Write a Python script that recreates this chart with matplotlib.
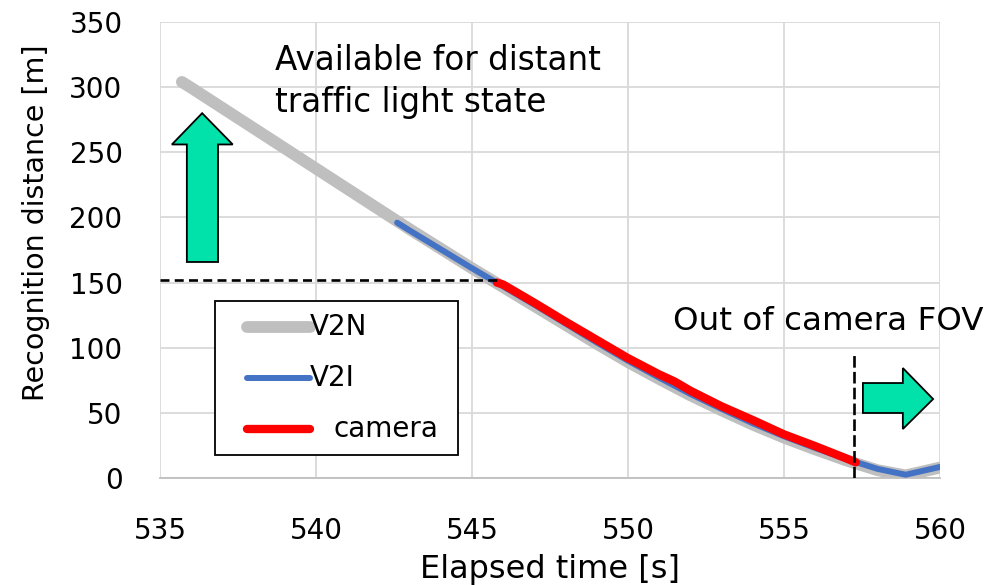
import numpy as np
import matplotlib.pyplot as plt
from matplotlib.patches import Polygon, Rectangle
from matplotlib.lines import Line2D

# V2N (gray), V2I (blue), camera (red) recognition distance [m] vs elapsed time [s]
t_v2n = [535.7, 536, 537, 538, 539, 540, 541, 542, 543, 544, 545, 546, 547, 548,
         549, 550, 551, 552, 553, 554, 555, 556, 557, 558, 558.9, 560]
d_v2n = [304, 299.5, 284, 268.5, 253, 237.5, 222, 206.5, 191, 176, 161, 146.5, 132,
         117.5, 103, 89, 76, 63.5, 52, 41, 31, 22, 13.5, 6, 2, 8]

t_v2i = [542.6, 543, 544, 545, 546, 547, 548, 549, 550, 551, 552, 553, 554, 555,
         556, 557, 558, 558.9, 560]
d_v2i = [196, 190, 175.5, 161, 147, 133, 118.5, 104, 90, 77, 64.5, 53, 42, 32,
         23, 14.5, 7, 2.5, 8.5]

t_cam = [545.8, 546, 547, 548, 549, 550, 551, 551.5, 552, 553, 554, 555, 556, 557, 557.3]
d_cam = [150, 148.5, 134.5, 120, 106, 92, 79.5, 74, 67, 55, 44.5, 33.5, 24.5, 15, 12]

x_ticks = [535, 540, 545, 550, 555, 560]
y_ticks = [0, 50, 100, 150, 200, 250, 300, 350]

dist_limit = 152      # horizontal dashed line
fov_time = 557.25     # vertical dashed line

GRAY = '#BFBFBF'
BLUE = '#4472C4'
RED = '#FF0000'
GREEN = '#00E2A9'

fig = plt.figure(figsize=(9.97, 5.85), dpi=100)
ax = fig.add_axes([0.1605, 0.1829, 0.7823, 0.7795])

ax.plot(t_v2n, d_v2n, color=GRAY, lw=8.5, solid_capstyle='round', solid_joinstyle='round', zorder=3)
ax.plot(t_v2i, d_v2i, color=BLUE, lw=4.3, solid_capstyle='round', solid_joinstyle='round', zorder=4)
ax.plot(t_cam, d_cam, color=RED, lw=6, solid_capstyle='round', solid_joinstyle='round', zorder=5)

ax.plot([535, t_cam[0]], [dist_limit, dist_limit], color='black', lw=1.9, ls=(0, (3.4, 2)), zorder=6)
ax.plot([fov_time, fov_time], [0, 97], color='black', lw=1.9, ls=(0, (4.4, 1.6)), zorder=6)

# green arrows
up = Polygon([(535.86, 165.8), (536.86, 165.8), (536.86, 256), (537.33, 256),
              (536.35, 280), (535.38, 256), (535.86, 256)],
             closed=True, fc=GREEN, ec='black', lw=1.3, zorder=7)
right = Polygon([(557.53, 49.9), (558.81, 49.9), (558.81, 37.6), (559.78, 60.6),
                 (558.81, 84.4), (558.81, 72.9), (557.53, 72.9)],
                closed=True, fc=GREEN, ec='black', lw=1.3, zorder=7, clip_on=False)
ax.add_patch(up)
ax.add_patch(right)

ax.set_xlim(535, 560)
ax.set_ylim(0, 350)
ax.set_xticks(x_ticks)
ax.set_yticks(y_ticks)
ax.grid(True, color='#D9D9D9', lw=1.3)
ax.set_axisbelow(True)
for s in ['top', 'right', 'left']:
    ax.spines[s].set_visible(False)
ax.spines['bottom'].set_color('#BFBFBF')
ax.spines['bottom'].set_linewidth(1.3)
ax.tick_params(length=0, labelsize=20)
ax.tick_params(axis='x', pad=28)
ax.tick_params(axis='y', pad=27)

ax.set_xlabel('Elapsed time [s]', fontsize=23)
ax.xaxis.set_label_coords(0.5, -0.167)
ax.set_ylabel('Recognition distance [m]', fontsize=20.5)
ax.yaxis.set_label_coords(-0.141, 0.559)

ax.text(0.147, 0.8947, 'Available for distant', transform=ax.transAxes,
        fontsize=23.5, va='baseline', ha='left')
ax.text(0.147, 0.8026, 'traffic light state', transform=ax.transAxes,
        fontsize=23.5, va='baseline', ha='left')
ax.text(0.658, 0.3246, 'Out of camera FOV', transform=ax.transAxes,
        fontsize=23.4, va='baseline', ha='left')

# legend box drawn by hand
ax.add_patch(Rectangle((0.0705, 0.0504), 0.3115, 0.3376, transform=ax.transAxes,
                       fc='white', ec='black', lw=1.3, zorder=8))
rows = [(GRAY, 8.5, 'V2N', 0.332, 0.1923), (BLUE, 4.3, 'V2I', 0.2186, 0.1923),
        (RED, 6, 'camera', 0.107, 0.222)]
for c, w, lab, yy, xt in rows:
    ax.add_line(Line2D([0.1115, 0.1923], [yy, yy], transform=ax.transAxes, color=c, lw=w,
                       solid_capstyle='round', zorder=9))
    ax.text(xt, yy, lab, transform=ax.transAxes, fontsize=20, va='center', ha='left', zorder=9)

fig.savefig('out.png', dpi=100)
